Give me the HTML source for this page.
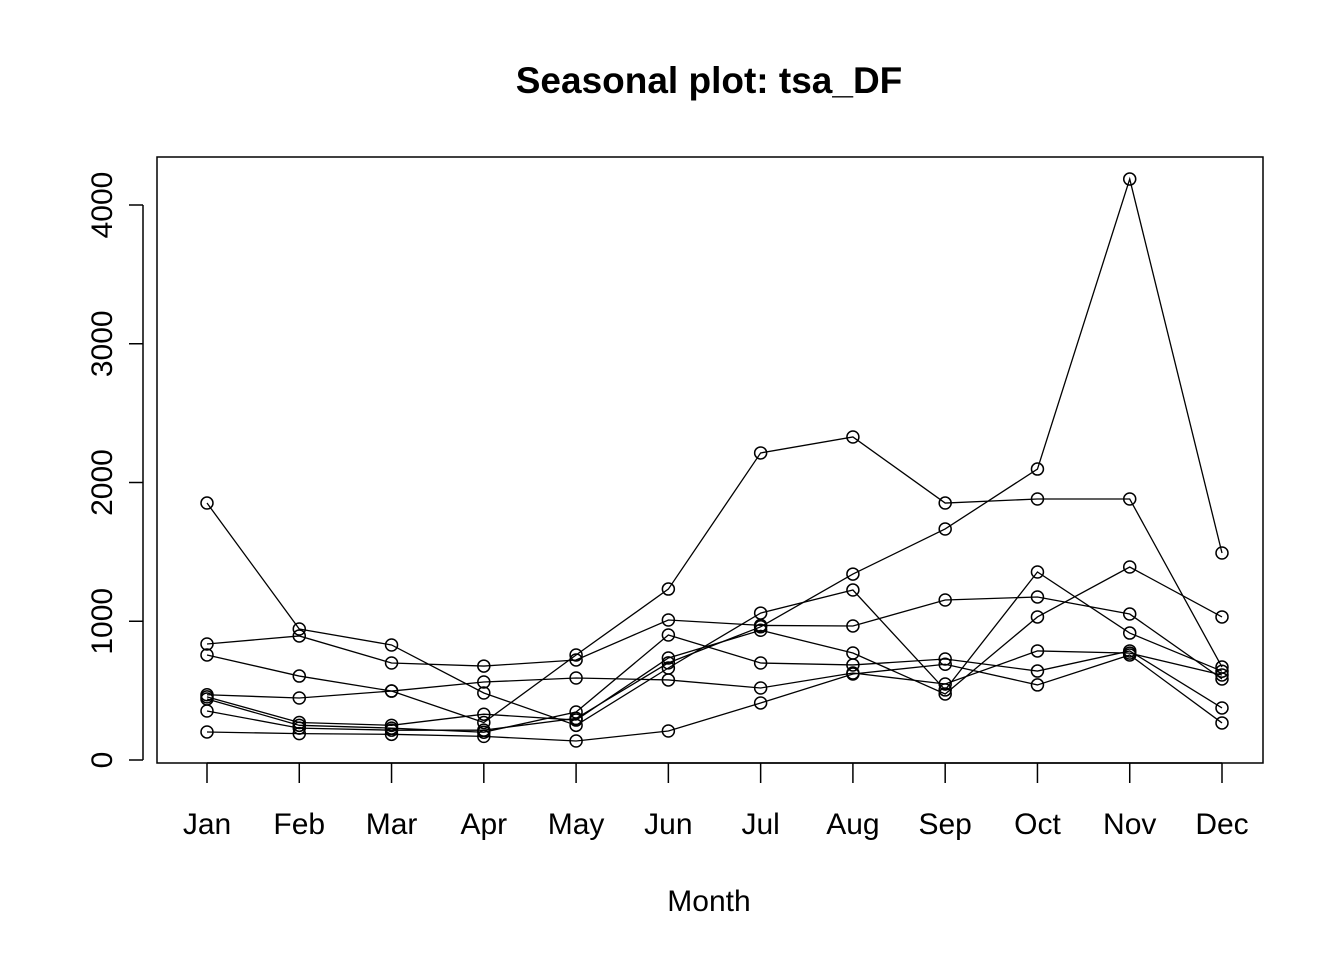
<!DOCTYPE html>
<html><head><meta charset="utf-8"><style>body{margin:0;background:#fff}svg{display:block}text{font-family:"Liberation Sans",Arial,sans-serif}</style></head>
<body>
<svg id="c" width="1344" height="960"></svg>
<script>
const months=["Jan","Feb","Mar","Apr","May","Jun","Jul","Aug","Sep","Oct","Nov","Dec"];
const yTicks=[0,1000,2000,3000,4000];
const s1=[1852,944,829,483,250,663,1059,1225,505,1355,915,640];
const s2=[836,894,699,677,721,1009,970,966,1153,1175,1052,584];
const s3=[757,605,497,270,757,1232,2213,2328,1852,1881,1881,670];
const s4=[470,447,497,562,591,577,519,627,548,786,770,613];
const s5=[455,270,250,330,288,735,935,771,476,1031,1391,1031];
const s6=[440,250,230,200,346,901,699,685,728,641,786,375];
const s7=[353,230,215,215,300,700,960,1340,1665,2097,4187,1492];
const s8=[202,190,185,170,137,209,411,620,690,541,757,267];
const series=[s1,s2,s3,s4,s5,s6,s7,s8];
const NS="http://www.w3.org/2000/svg",svg=document.getElementById("c");
const X=i=>207+i*(1222-207)/11, Y=v=>760-v*(760-205)/4000;
function mk(t,a,p){const e=document.createElementNS(NS,t);for(const k in a)e.setAttribute(k,a[k]);(p||svg).appendChild(e);return e;}
let e=mk("text",{x:709,y:93,"text-anchor":"middle","font-size":37,"font-weight":"bold"});e.textContent="Seasonal plot: tsa_DF";


e=mk("rect",{x:157,y:157,width:1106,height:606,fill:"none",stroke:"#000","stroke-width":1.5});


e=mk("line",{x1:143,x2:143,y1:Y(0),y2:Y(4000),stroke:"#000","stroke-width":1.5});


yTicks.forEach(v=>{mk("line",{x1:129,x2:143,y1:Y(v),y2:Y(v),stroke:"#000","stroke-width":1.5});
const t=mk("text",{x:112,y:Y(v),"text-anchor":"middle","font-size":30,transform:`rotate(-90 112 ${Y(v)})`});t.textContent=v;

});
e=mk("line",{x1:X(0),x2:X(11),y1:763,y2:763,stroke:"#000","stroke-width":1.5});


months.forEach((m,i)=>{mk("line",{x1:X(i),x2:X(i),y1:763,y2:783,stroke:"#000","stroke-width":1.5});
const t=mk("text",{x:X(i),y:834,"text-anchor":"middle","font-size":30});t.textContent=m;

});
e=mk("text",{x:709,y:911,"text-anchor":"middle","font-size":30});e.textContent="Month";


series.forEach((s,k)=>{const g=mk("g",{});


mk("polyline",{points:s.map((v,i)=>X(i)+","+Y(v)).join(" "),fill:"none",stroke:"#000","stroke-width":1.3},g);
s.forEach((v,i)=>{const c=mk("circle",{cx:X(i),cy:Y(v),r:6,fill:"none",stroke:"#000","stroke-width":1.5},g);

});});
</script>
</body></html>
